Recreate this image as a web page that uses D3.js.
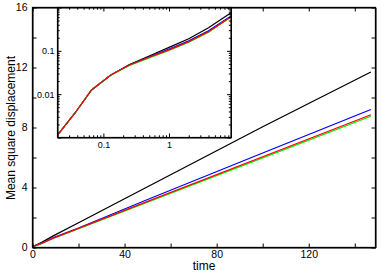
<!DOCTYPE html>
<html>
<head>
<meta charset="utf-8">
<style>
  body { margin: 0; background: #fff; }
  svg { display: block; font-family: "Liberation Sans", Arial, sans-serif; }
  .axis path, .axis line { stroke: #000; }
</style>
</head>
<body>
<script src="https://cdnjs.cloudflare.com/ajax/libs/d3/7.8.5/d3.min.js"></script>
<script>
var w = 389, h = 273;

// sampled times and MSD of the four runs
var time  = [0, 0.02, 0.037, 0.066, 0.13, 0.25, 0.5, 1, 2, 4, 8.8, 20, 50, 100, 147];
var black = [0, 0.00114, 0.00368, 0.0125, 0.0277, 0.048, 0.076, 0.12, 0.19, 0.34, 0.76, 1.65, 4.05, 8.05, 11.7];
var blue  = [0, 0.00114, 0.00368, 0.0125, 0.0277, 0.047, 0.072, 0.110, 0.170, 0.29, 0.64, 1.30, 3.20, 6.30, 9.2];
var green = [0, 0.00114, 0.00368, 0.0125, 0.0277, 0.046, 0.069, 0.102, 0.158, 0.27, 0.60, 1.25, 3.02, 5.97, 8.75];
var red   = [0, 0.00114, 0.00368, 0.0125, 0.0277, 0.047, 0.071, 0.105, 0.163, 0.277, 0.61, 1.27, 3.07, 6.05, 8.85];

var series = [
  { color: "#000000", values: black },
  { color: "#0000ff", values: blue },
  { color: "#00ee00", values: green },
  { color: "#ff0000", values: red }
];

var xTicks = [0, 40, 80, 120];
var yTicks = [0, 4, 8, 12, 16];
var insetXLabels = [0.1, 1];
var insetYLabels = [0.01, 0.1];

var svg = d3.select("body").append("svg")
    .attr("width", w)
    .attr("height", h);

// main plot
var x = d3.scaleLinear().domain([0, 149]).range([32.5, 375.5]);
var y = d3.scaleLinear().domain([0, 16]).range([247.5, 7.5]);

function pts(vals) {
  return time.map(function(t, i) { return [t, vals[i]]; });
}

var line = d3.line()
    .x(function(d) { return x(d[0]); })
    .y(function(d) { return y(d[1]); });

series.forEach(function(s) {
  svg.append("path")
      .attr("d", line(pts(s.values)))
      .attr("fill", "none")
      .attr("stroke", s.color)
      .attr("stroke-width", 1.3);
});

var minorX = d3.range(0, 149, 20), minorY = d3.range(0, 17, 2);

svg.append("g").attr("class", "axis")
    .attr("transform", "translate(0,247.5)")
    .call(d3.axisBottom(x).tickValues(minorX).tickSizeInner(-4).tickSizeOuter(0)
      .tickFormat(function(d) { return xTicks.indexOf(d) >= 0 ? d : ""; }))
    .call(function(g) {
      g.selectAll("text").attr("y", 3).attr("font-size", "10.5px").attr("font-family", "Liberation Sans, Arial");
    });
svg.append("g").attr("class", "axis")
    .attr("transform", "translate(0,7.5)")
    .call(d3.axisTop(x).tickValues(minorX).tickSizeInner(-4).tickSizeOuter(0).tickFormat(""));
svg.append("g").attr("class", "axis")
    .attr("transform", "translate(32.5,0)")
    .call(d3.axisLeft(y).tickValues(minorY).tickSizeInner(-4).tickSizeOuter(0)
      .tickFormat(function(d) { return yTicks.indexOf(d) >= 0 ? d : ""; }))
    .call(function(g) {
      g.selectAll("text").attr("x", -5).attr("font-size", "10.5px").attr("font-family", "Liberation Sans, Arial");
    });
svg.append("g").attr("class", "axis")
    .attr("transform", "translate(375.5,0)")
    .call(d3.axisRight(y).tickValues(minorY).tickSizeInner(-4).tickSizeOuter(0).tickFormat(""));

svg.append("rect")
    .attr("x", 32.5).attr("y", 7.5)
    .attr("width", 343).attr("height", 240)
    .attr("fill", "none").attr("stroke", "#000").attr("stroke-width", 1.3);

svg.append("text")
    .attr("x", 204).attr("y", 270)
    .attr("text-anchor", "middle")
    .attr("font-size", "12px")
    .text("time");

svg.append("text")
    .attr("transform", "translate(15,128) rotate(-90)")
    .attr("text-anchor", "middle")
    .attr("font-size", "12px")
    .text("Mean square displacement");

// inset, log-log
var xi = d3.scaleLog().domain([0.02, 8.8]).range([57.5, 231]);
var yi = d3.scaleLog().domain([0.001, 1]).range([137.5, 7.5]);

var inset = svg.append("g");
inset.append("rect")
    .attr("x", 57.5).attr("y", 7.5)
    .attr("width", 173.5).attr("height", 130)
    .attr("fill", "#fff");

svg.append("clipPath").attr("id", "clipInset")
  .append("rect")
    .attr("x", 57.5).attr("y", 7.5)
    .attr("width", 173.5).attr("height", 130);

var lineIn = d3.line()
    .x(function(d) { return xi(d[0]); })
    .y(function(d) { return yi(d[1]); });

series.forEach(function(s) {
  var d = pts(s.values).filter(function(p) { return p[0] > 0 && p[0] <= 8.8; });
  inset.append("path")
      .attr("d", lineIn(d))
      .attr("clip-path", "url(#clipInset)")
      .attr("fill", "none")
      .attr("stroke", s.color)
      .attr("stroke-width", 1.2);
});

function logTicks(lo, hi) {
  var out = [];
  for (var e = -4; e <= 2; e++) {
    for (var m = 1; m < 10; m++) {
      var v = m * Math.pow(10, e);
      if (v >= lo * 0.999 && v <= hi * 1.001) out.push(v);
    }
  }
  return out;
}
var ixt = logTicks(0.02, 8.8), iyt = logTicks(0.001, 1);
function isDecade(v) { return Math.abs(Math.log10(v) - Math.round(Math.log10(v))) < 1e-6; }

function tickLen(g, size) {
  g.selectAll(".tick line").each(function(d) {
    var len = isDecade(d) ? size : size * 0.55;
    var el = d3.select(this);
    if (el.attr("x2") !== null && +el.attr("x2") !== 0) el.attr("x2", +el.attr("x2") > 0 ? len : -len);
    if (el.attr("y2") !== null && +el.attr("y2") !== 0) el.attr("y2", +el.attr("y2") > 0 ? len : -len);
  });
}

inset.append("g").attr("class", "axis")
    .attr("transform", "translate(0,137.5)")
    .call(d3.axisBottom(xi).tickValues(ixt).tickSizeInner(-4).tickSizeOuter(0)
      .tickFormat(function(d) { return insetXLabels.indexOf(d) >= 0 ? d : ""; }))
    .call(function(g) {
      tickLen(g, 4);
      g.selectAll("text").attr("y", 4).attr("font-size", "9px").attr("font-family", "Liberation Sans, Arial");
    });
inset.append("g").attr("class", "axis")
    .attr("transform", "translate(0,7.5)")
    .call(d3.axisTop(xi).tickValues(ixt).tickSizeInner(-4).tickSizeOuter(0).tickFormat(""))
    .call(function(g) { tickLen(g, 4); });
inset.append("g").attr("class", "axis")
    .attr("transform", "translate(57.5,0)")
    .call(d3.axisLeft(yi).tickValues(iyt).tickSizeInner(-4).tickSizeOuter(0)
      .tickFormat(function(d) { return insetYLabels.indexOf(d) >= 0 ? d : ""; }))
    .call(function(g) {
      tickLen(g, 4);
      g.selectAll("text").attr("x", -3).attr("font-size", "9px").attr("font-family", "Liberation Sans, Arial");
    });
inset.append("g").attr("class", "axis")
    .attr("transform", "translate(231,0)")
    .call(d3.axisRight(yi).tickValues(iyt).tickSizeInner(-4).tickSizeOuter(0).tickFormat(""))
    .call(function(g) { tickLen(g, 4); });

inset.append("rect")
    .attr("x", 57.5).attr("y", 7.5)
    .attr("width", 173.5).attr("height", 130)
    .attr("fill", "none").attr("stroke", "#000").attr("stroke-width", 1.2);
</script>
</body>
</html>
